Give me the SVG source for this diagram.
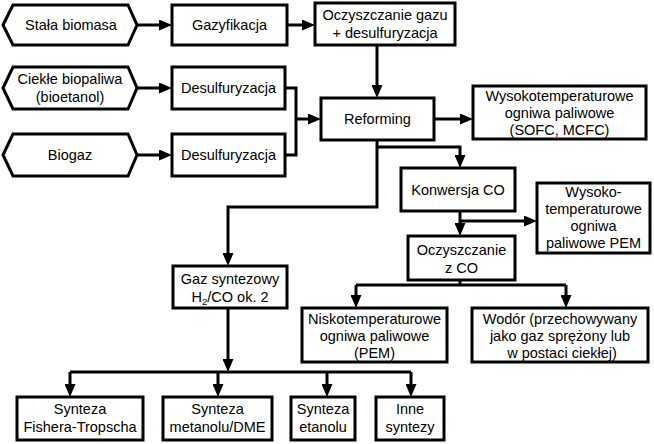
<svg xmlns="http://www.w3.org/2000/svg" width="654" height="444" viewBox="0 0 654 444">
<style>
.b{fill:#fff;stroke:#000;stroke-width:3}
.c{fill:none;stroke:#000;stroke-width:3}
.t{font-family:"Liberation Sans",Arial,Helvetica,sans-serif;font-size:14.5px;fill:#000;text-anchor:middle}
</style>
<defs>
<marker id="a" viewBox="0 0 13 11" markerWidth="13" markerHeight="11" refX="4" refY="5.500" orient="auto" markerUnits="userSpaceOnUse"><path d="M0,0L13,5.500L0,11z" fill="#000"/></marker>
</defs>
<rect width="654" height="444" fill="#fff"/>
<g id="connectors">
<path class="c" d="M137,25H163" marker-end="url(#a)"/>
<path class="c" d="M287,25H306" marker-end="url(#a)"/>
<path class="c" d="M377,45V89" marker-end="url(#a)"/>
<path class="c" d="M137,88H163" marker-end="url(#a)"/>
<path class="c" d="M137,155H163" marker-end="url(#a)"/>
<path class="c" d="M285,88H296V155H285"/>
<path class="c" d="M296,119H312" marker-end="url(#a)"/>
<path class="c" d="M434,119H464" marker-end="url(#a)"/>
<path class="c" d="M377,140V207H228V257" marker-end="url(#a)"/>
<path class="c" d="M377,147H460V159" marker-end="url(#a)"/>
<path class="c" d="M460,211V227" marker-end="url(#a)"/>
<path class="c" d="M460,221H528" marker-end="url(#a)"/>
<path class="c" d="M460,280V285"/>
<path class="c" d="M356,285H566"/>
<path class="c" d="M356,285V299" marker-end="url(#a)"/>
<path class="c" d="M566,285V299" marker-end="url(#a)"/>
<path class="c" d="M228,308V363" marker-end="url(#a)"/>
<path class="c" d="M70,372H411"/>
<path class="c" d="M70,372V388" marker-end="url(#a)"/>
<path class="c" d="M218,372V388" marker-end="url(#a)"/>
<path class="c" d="M327,372V388" marker-end="url(#a)"/>
<path class="c" d="M411,372V388" marker-end="url(#a)"/>
</g>
<g id="stala-biomasa">
<polygon class="b" points="3,25 13,5 128,5 137,25 128,45 13,45"/>
<text class="t" x="71" y="30">Stała biomasa</text>
</g>
<g id="ciekle-biopaliwa">
<polygon class="b" points="3,88 13,67 128,67 137,88 128,109 13,109"/>
<text class="t" x="70" y="84">Ciekłe biopaliwa</text>
<text class="t" x="70" y="102">(bioetanol)</text>
</g>
<g id="biogaz">
<polygon class="b" points="3,155 13,134 128,134 137,155 128,176 13,176"/>
<text class="t" x="70" y="160">Biogaz</text>
</g>
<g id="gazyfikacja">
<rect class="b" x="172" y="5" width="115" height="40"/>
<text class="t" x="229.500" y="30">Gazyfikacja</text>
</g>
<g id="oczyszczanie-gazu">
<rect class="b" x="315" y="3" width="140" height="42"/>
<text class="t" x="385" y="20">Oczyszczanie gazu</text>
<text class="t" x="385" y="38">+ desulfuryzacja</text>
</g>
<g id="desulfuryzacja-1">
<rect class="b" x="172" y="67" width="113" height="42"/>
<text class="t" x="228.500" y="93">Desulfuryzacja</text>
</g>
<g id="desulfuryzacja-2">
<rect class="b" x="172" y="134" width="113" height="42"/>
<text class="t" x="228.500" y="160">Desulfuryzacja</text>
</g>
<g id="reforming">
<rect class="b" x="321" y="98" width="113" height="42"/>
<text class="t" x="377.500" y="124">Reforming</text>
</g>
<g id="wysokotemperaturowe-sofc">
<rect class="b" x="473" y="86" width="173" height="53"/>
<text class="t" x="559.500" y="101">Wysokotemperaturowe</text>
<text class="t" x="559.500" y="118">ogniwa paliwowe</text>
<text class="t" x="559.500" y="135">(SOFC, MCFC)</text>
</g>
<g id="konwersja-co">
<rect class="b" x="401" y="168" width="114" height="43"/>
<text class="t" x="458" y="195">Konwersja CO</text>
</g>
<g id="wysokotemperaturowe-pem">
<rect class="b" x="537" y="183" width="113" height="70"/>
<text class="t" x="593.500" y="197">Wysoko-</text>
<text class="t" x="593.500" y="214">temperaturowe</text>
<text class="t" x="593.500" y="231">ogniwa</text>
<text class="t" x="593.500" y="248">paliwowe PEM</text>
</g>
<g id="oczyszczanie-co">
<rect class="b" x="408" y="236" width="107" height="44"/>
<text class="t" x="461.500" y="255">Oczyszczanie</text>
<text class="t" x="461.500" y="273">z CO</text>
</g>
<g id="gaz-syntezowy">
<rect class="b" x="173" y="266" width="114" height="42"/>
<text class="t" x="230" y="284">Gaz syntezowy</text>
<text class="t" x="230" y="302">H<tspan font-size="9.500" dy="3">2</tspan><tspan dy="-3">/CO ok. 2</tspan></text>
</g>
<g id="niskotemperaturowe">
<rect class="b" x="302" y="308" width="145" height="54"/>
<text class="t" x="374.500" y="324">Niskotemperaturowe</text>
<text class="t" x="374.500" y="341">ogniwa paliwowe</text>
<text class="t" x="374.500" y="358">(PEM)</text>
</g>
<g id="wodor">
<rect class="b" x="472" y="308" width="176" height="54"/>
<text class="t" x="560" y="324">Wodór (przechowywany</text>
<text class="t" x="560" y="341">jako gaz sprężony lub</text>
<text class="t" x="562" y="358">w postaci ciekłej)</text>
</g>
<g id="fischer-tropsch">
<rect class="b" x="17" y="397" width="126" height="43"/>
<text class="t" x="80" y="414">Synteza</text>
<text class="t" x="80" y="432">Fishera-Tropscha</text>
</g>
<g id="metanol">
<rect class="b" x="163" y="397" width="109" height="43"/>
<text class="t" x="217.500" y="414">Synteza</text>
<text class="t" x="217.500" y="432">metanolu/DME</text>
</g>
<g id="etanol">
<rect class="b" x="291" y="397" width="64" height="43"/>
<text class="t" x="323" y="414">Synteza</text>
<text class="t" x="323" y="432">etanolu</text>
</g>
<g id="inne">
<rect class="b" x="376" y="397" width="68" height="43"/>
<text class="t" x="410" y="414">Inne</text>
<text class="t" x="410" y="432">syntezy</text>
</g>
</svg>
